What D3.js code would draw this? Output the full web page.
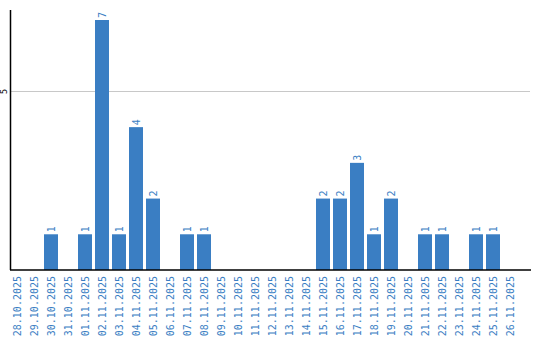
<!DOCTYPE html>
<html lang="en">
<head>
    <meta charset="UTF-8">
    <title>Daily count</title>
    <script src="https://d3js.org/d3.v7.min.js"></script>
    <style>
        body { margin: 0; background: #fff; }
        svg { display: block; }
        .xlab, .vlab { fill: #3a7ec3; font-family: "DejaVu Sans Mono", monospace; font-size: 10px; }
        .ylab { fill: #000; font-family: "DejaVu Sans", sans-serif; font-size: 8px; }
    </style>
</head>
<body>
    <svg width="540" height="340"></svg>
    <script>
        const dates = ['28.10.2025', '29.10.2025', '30.10.2025', '31.10.2025', '01.11.2025', '02.11.2025',
            '03.11.2025', '04.11.2025', '05.11.2025', '06.11.2025', '07.11.2025', '08.11.2025',
            '09.11.2025', '10.11.2025', '11.11.2025', '12.11.2025', '13.11.2025', '14.11.2025',
            '15.11.2025', '16.11.2025', '17.11.2025', '18.11.2025', '19.11.2025', '20.11.2025',
            '21.11.2025', '22.11.2025', '23.11.2025', '24.11.2025', '25.11.2025', '26.11.2025'];
        const counts = [0, 0, 1, 0, 1, 7, 1, 4, 2, 0, 1, 1, 0, 0, 0, 0, 0, 0, 2, 2, 3, 1, 2, 0, 1, 1, 0, 1, 1, 0];
        const yTicks = [5];

        const barColor = '#3a7ec3';
        const svg = d3.select('svg');

        const x = d3.scaleBand()
            .domain(dates)
            .range([10, 520])
            .paddingInner(3 / 17)
            .paddingOuter(3 / 34)
            .align(0);

        const y = d3.scaleLinear()
            .domain([0, 7.28])
            .range([270, 10]);

        // grid lines
        svg.selectAll('.grid')
            .data(yTicks)
            .enter().append('line')
            .attr('x1', 10).attr('x2', 530)
            .attr('y1', d => Math.round(y(d)) + 0.5)
            .attr('y2', d => Math.round(y(d)) + 0.5)
            .attr('stroke', '#c8c8c8');

        svg.selectAll('.ylab')
            .data(yTicks)
            .enter().append('text')
            .attr('class', 'ylab')
            .attr('transform', d => `translate(7,${y(d)}) rotate(-90)`)
            .attr('text-anchor', 'middle')
            .text(d => d);

        const data = dates.map((d, i) => ({ date: d, value: counts[i] }));
        const nonZero = data.filter(d => d.value > 0);

        svg.selectAll('rect')
            .data(nonZero)
            .enter().append('rect')
            .attr('x', d => x(d.date))
            .attr('y', d => y(d.value))
            .attr('width', x.bandwidth())
            .attr('height', d => y(0) - y(d.value))
            .attr('fill', barColor);

        svg.selectAll('.vlab')
            .data(nonZero)
            .enter().append('text')
            .attr('class', 'vlab')
            .attr('transform', d => `translate(${x(d.date) + x.bandwidth() / 2 + 3.5},${y(d.value) - 2}) rotate(-90)`)
            .text(d => d.value);

        // axes
        svg.append('line')
            .attr('x1', 10.5).attr('x2', 10.5)
            .attr('y1', 10).attr('y2', 270)
            .attr('stroke', '#000').attr('stroke-width', 1.5);
        svg.append('line')
            .attr('x1', 10).attr('x2', 531)
            .attr('y1', 270).attr('y2', 270)
            .attr('stroke', '#000').attr('stroke-width', 1.5);

        svg.selectAll('.xlab')
            .data(dates)
            .enter().append('text')
            .attr('class', 'xlab')
            .attr('transform', d => `translate(${x(d) + x.bandwidth() / 2 + 3.5},276) rotate(-90)`)
            .attr('text-anchor', 'end')
            .text(d => d);
    </script>
</body>
</html>
